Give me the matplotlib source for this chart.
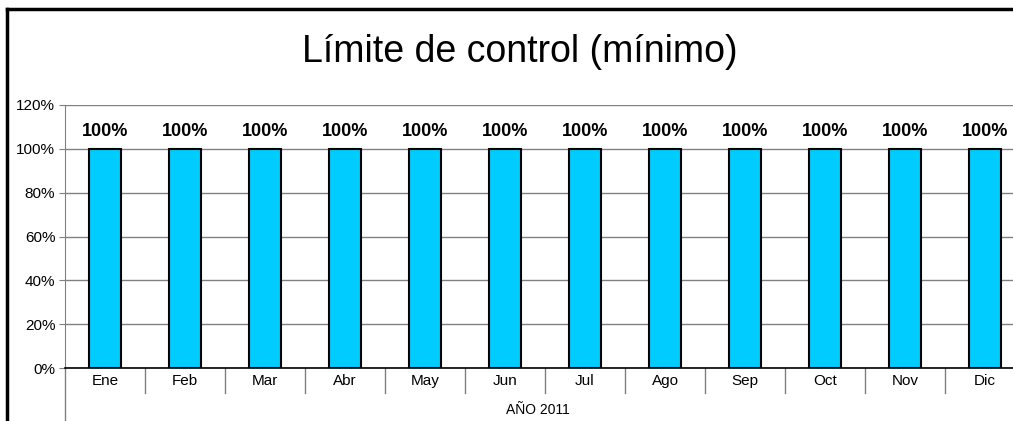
import matplotlib.pyplot as plt
from matplotlib.lines import Line2D
from matplotlib.ticker import FuncFormatter

plt.rcParams['font.family'] = ['Liberation Sans', 'DejaVu Sans']

meses = ["Ene", "Feb", "Mar", "Abr", "May", "Jun", "Jul", "Ago", "Sep", "Oct", "Nov", "Dic"]
valores = [100, 100, 100, 100, 100, 100, 100, 100, 100, 100, 100, 100]
anio = "AÑO 2011"

fig = plt.figure(figsize=(10.13, 4.21), dpi=100)
ax = fig.add_axes([65 / 1013, 1 - 368 / 421, 960 / 1013, 263 / 421])

x = list(range(len(meses)))
ax.bar(x, valores, width=0.39, color="#00CCFF", edgecolor="black", linewidth=1.5, zorder=3)
for xi, v in zip(x, valores):
    ax.text(xi, v + 4, f"{v}%", ha="center", va="bottom", fontsize=13, fontweight="bold")

ax.set_xlim(-0.5, len(meses) - 0.5)
ax.set_ylim(0, 120)
ax.set_yticks(range(0, 121, 20))
ax.yaxis.set_major_formatter(FuncFormatter(lambda v, p: f"{int(v)}%"))
ax.tick_params(axis="y", length=4, color="#808080", labelsize=11, pad=3)
ax.set_xticks([])
ax.grid(axis="y", color="#808080", linewidth=1, zorder=0)

for s in ["top", "right"]:
    ax.spines[s].set_visible(False)
ax.spines["left"].set_color("#808080")
ax.spines["bottom"].set_color("black")
ax.spines["bottom"].set_linewidth(1.2)

# etiquetas de meses y separadores
trans = ax.get_xaxis_transform()
for xi, m in zip(x, meses):
    ax.text(xi, -13 / 263, m, transform=trans, ha="center", va="center", fontsize=11)
for b in range(len(meses)):
    bx = b + 0.5
    ax.plot([bx, bx], [0, -25 / 263], transform=trans, color="#808080", lw=1, clip_on=False)
ax.plot([-0.5, -0.5], [0, -60 / 263], transform=trans, color="#808080", lw=1, clip_on=False)
fig.text(538 / 1013, 1 - 410 / 421, anio, ha="center", va="center", fontsize=10)

fig.text(520 / 1013, 1 - 52 / 421, "Límite de control (mínimo)", ha="center", va="center", fontsize=27)

# borde del grafico
fig.add_artist(Line2D([7 / 1013, 7 / 1013], [0, 1 - 9 / 421], color="black", lw=2.5))
fig.add_artist(Line2D([7 / 1013, 1], [1 - 9 / 421, 1 - 9 / 421], color="black", lw=2.5))

fig.savefig("out.png", dpi=100)
